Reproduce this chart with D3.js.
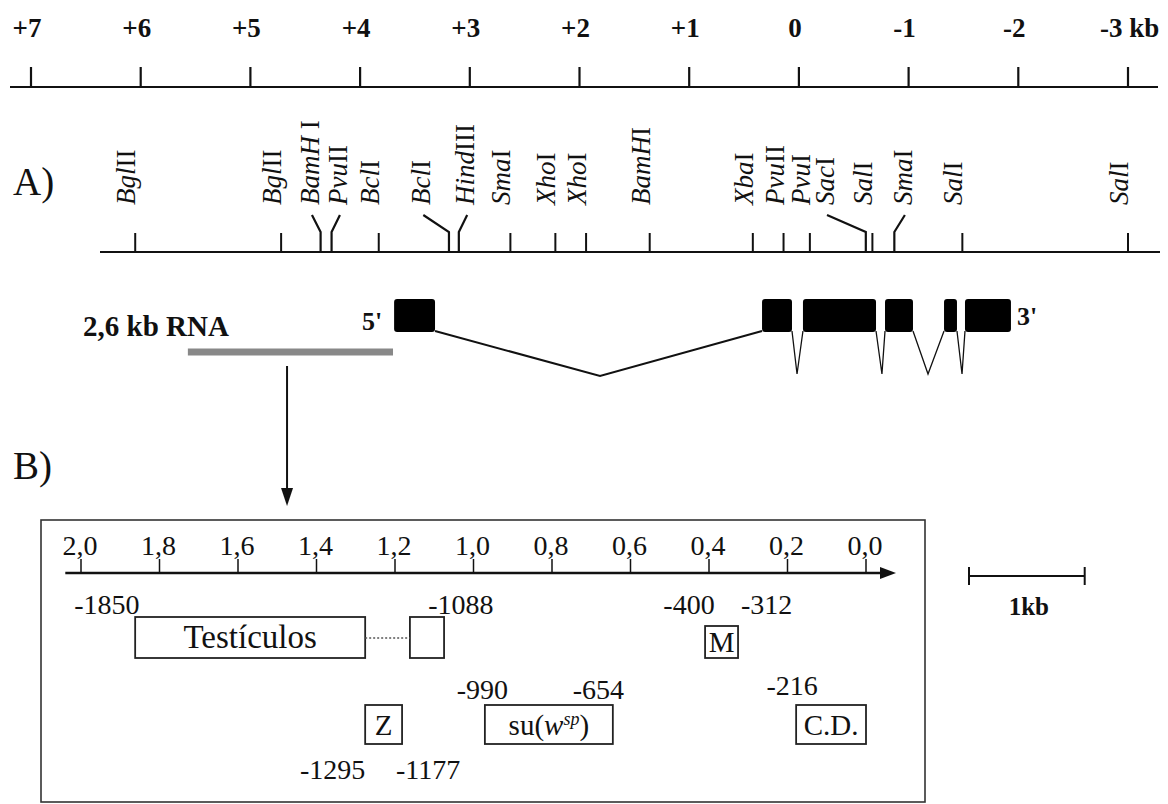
<!DOCTYPE html>
<html><head><meta charset="utf-8">
<script src="https://cdn.jsdelivr.net/npm/d3@7"></script>
<style>
body{margin:0;background:#fff}
svg{display:block}
text{font-family:"Liberation Serif","Times New Roman",serif;fill:#111}
</style>
</head><body>
<svg id="c" width="1168" height="804"></svg>
<script>
// ---------- DATA ----------
// top kb scale
const kbTicks = [7, 6, 5, 4, 3, 2, 1, 0, -1, -2, -3];
const kbTickLabels = ["+7", "+6", "+5", "+4", "+3", "+2", "+1", "0", "-1", "-2", "-3"];
const kbUnit = " kb";

// restriction map (A)
const siteEnzymes  = ["Bgl", "Bgl", "BamH", "Pvu", "Bcl", "Bcl", "Hind", "Sma", "Xho", "Xho", "BamH", "Xba", "Pvu", "Pvu", "Sac", "Sal", "Sma", "Sal", "Sal"];
const siteNumerals = ["II", "II", " I", "II", "I", "I", "III", "I", "I", "I", "I", "I", "II", "I", "I", "I", "I", "I", "I"];
const siteKb       = [6.05, 4.72, 4.36, 4.26, 3.83, 3.19, 3.10, 2.63, 2.22, 1.94, 1.36, 0.42, 0.14, -0.10, -0.61, -0.67, -0.87, -1.49, -3.00];
const siteLabelKb  = [null, null, 4.375, 4.12, null, 3.36, 2.96, null, null, null, null, null, null, null, -0.32, null, -1.03, null, null];

// transcript (2,6 kb RNA)
const rnaLabel = "2,6 kb RNA";
const exonFromKb = [3.69, 0.336, -0.037, -0.785, -1.323, -1.514];
const exonToKb   = [3.317, 0.063, -0.703, -1.040, -1.441, -1.933];
const intronApexKb = [1.813, 0.017, -0.757, -1.177, -1.487];
const probeFromKb = 5.57, probeToKb = 3.70, arrowKb = 4.666;

// promoter detail (B), positions in bp
const bTicks = [2.0, 1.8, 1.6, 1.4, 1.2, 1.0, 0.8, 0.6, 0.4, 0.2, 0.0];
const bTickLabels = ["2,0", "1,8", "1,6", "1,4", "1,2", "1,0", "0,8", "0,6", "0,4", "0,2", "0,0"];
const regionNames = ["Testículos", "", "M", "Z", "su(w^sp)", "C.D."];
const regionFromBp = [-1862, -1162, -410, -1276, -971, -178];
const regionToBp   = [-1276, -1075, -326, -1182, -645, 0];
const regionRow    = [0, 0, 0, 1, 1, 1];
const coordLabels  = ["-1850", "-1088", "-400", "-312", "-990", "-654", "-216", "-1295", "-1177"];
const coordRow     = ["a", "a", "a", "a", "b", "b", "b2", "c", "c"];

// ---------- LAYOUT ----------
const svg = d3.select("#c");
const xTop = d3.scaleLinear().domain([7, -3]).range([31, 1128]);
const xB = d3.scaleLinear().domain([2.0, 0.0]).range([81, 866]);

// top axis
const gTop = svg.append("g");
gTop.append("line").attr("x1", 10).attr("x2", 1158).attr("y1", 87).attr("y2", 87)
  .attr("stroke", "#111").attr("stroke-width", 2.2);
gTop.selectAll("line.t").data(kbTicks).join("line").attr("class", "t")
  .attr("x1", d => xTop(d)).attr("x2", d => xTop(d)).attr("y1", 67).attr("y2", 87)
  .attr("stroke", "#111").attr("stroke-width", 2.2);
gTop.selectAll("text").data(kbTicks).join("text")
  .attr("x", d => xTop(d) - 4).attr("y", 37)
  .attr("text-anchor", "middle").attr("font-size", 27).attr("font-weight", "bold")
  .text((d, i) => kbTickLabels[i])
  .each(function (d, i) {
    if (i === kbTicks.length - 1) {
      const t = d3.select(this);
      t.append("tspan").text(kbUnit);
      t.attr("text-anchor", "start").attr("x", xTop(d) - 28);
    }
  });

// A) restriction map
svg.append("text").attr("x", 13).attr("y", 195).attr("font-size", 39).text("A)");
const rY = 252;
svg.append("line").attr("x1", 100).attr("x2", 1160).attr("y1", rY).attr("y2", rY)
  .attr("stroke", "#111").attr("stroke-width", 2.2);
const sites = siteKb.map((kb, i) => ({kb, enz: siteEnzymes[i], num: siteNumerals[i], lab: siteLabelKb[i]}));
const gS = svg.append("g");
sites.forEach(s => {
  const xs = xTop(s.kb);
  const lx = s.lab === null ? xs : xTop(s.lab);
  if (s.lab === null) {
    gS.append("line").attr("x1", xs).attr("x2", xs).attr("y1", rY - 19).attr("y2", rY)
      .attr("stroke", "#111").attr("stroke-width", 2);
  } else {
    gS.append("path").attr("d", `M${lx - 7},215 L${xs},232 L${xs},${rY}`)
      .attr("fill", "none").attr("stroke", "#111").attr("stroke-width", 2.2);
  }
  const t = gS.append("text").attr("transform", `translate(${lx},205) rotate(-90)`)
    .attr("font-size", 27);
  t.append("tspan").attr("font-style", "italic").text(s.enz);
  t.append("tspan").text(s.num);
});

// transcript
const eTop = 299, eBot = 332;
svg.append("text").attr("x", 83).attr("y", 336).attr("font-size", 29).attr("font-weight", "bold").text(rnaLabel);
svg.append("text").attr("x", 362).attr("y", 330).attr("font-size", 26).attr("font-weight", "bold").text("5'");
svg.append("text").attr("x", 1017).attr("y", 325).attr("font-size", 26).attr("font-weight", "bold").text("3'");
svg.selectAll("rect.exon").data(exonFromKb).join("rect").attr("class", "exon")
  .attr("x", (d) => xTop(d)).attr("width", (d, i) => xTop(exonToKb[i]) - xTop(d))
  .attr("y", eTop).attr("height", eBot - eTop).attr("rx", 3).attr("fill", "#000");
intronApexKb.forEach((a, i) => {
  const x0 = xTop(exonToKb[i]), x1 = xTop(exonFromKb[i + 1]);
  const depth = i === 0 ? 376 : 374;
  svg.append("path").attr("d", `M${x0},${eBot - 1} L${xTop(a)},${depth} L${x1},${eBot - 1}`)
    .attr("fill", "none").attr("stroke", "#111").attr("stroke-width", i === 0 ? 2 : 1.3);
});
svg.append("line").attr("x1", xTop(probeFromKb)).attr("x2", xTop(probeToKb)).attr("y1", 352).attr("y2", 352)
  .attr("stroke", "#888").attr("stroke-width", 7);
svg.append("line").attr("x1", xTop(arrowKb)).attr("x2", xTop(arrowKb)).attr("y1", 366).attr("y2", 490)
  .attr("stroke", "#111").attr("stroke-width", 2);
svg.append("path").attr("d", `M${xTop(arrowKb) - 6},488 L${xTop(arrowKb) + 6},488 L${xTop(arrowKb)},506 Z`).attr("fill", "#111");

// B)
svg.append("text").attr("x", 13).attr("y", 479).attr("font-size", 39).text("B)");
svg.append("rect").attr("x", 41).attr("y", 520).attr("width", 884).attr("height", 282)
  .attr("fill", "none").attr("stroke", "#333").attr("stroke-width", 1.6);
const bY = 573;
svg.append("line").attr("x1", xB(2.04)).attr("x2", 885).attr("y1", bY).attr("y2", bY)
  .attr("stroke", "#111").attr("stroke-width", 2.5);
svg.append("path").attr("d", `M880,${bY - 6} L896,${bY} L880,${bY + 6} Z`).attr("fill", "#111");
svg.selectAll("line.bt").data(bTicks).join("line").attr("class", "bt")
  .attr("x1", d => xB(d)).attr("x2", d => xB(d)).attr("y1", 559).attr("y2", bY)
  .attr("stroke", "#111").attr("stroke-width", 1.5);
svg.selectAll("text.bt").data(bTicks).join("text").attr("class", "bt")
  .attr("x", d => xB(d) - 1).attr("y", 555).attr("text-anchor", "middle").attr("font-size", 28)
  .text((d, i) => bTickLabels[i]);

// regions
const rowTop = [617, 705], rowBot = [658, 744];
const fx = bp => xB(-bp / 1000);
regionNames.forEach((n, i) => {
  const r = regionRow[i];
  let top = rowTop[r];
  if (n === "M") top = 626;
  const x0 = fx(regionFromBp[i]), x1 = fx(regionToBp[i]);
  svg.append("rect").attr("x", x0).attr("y", top).attr("width", x1 - x0).attr("height", rowBot[r] - top)
    .attr("fill", "#fff").attr("stroke", "#222").attr("stroke-width", 1.8);
  if (n) {
    const t = svg.append("text").attr("x", (x0 + x1) / 2).attr("y", (top + rowBot[r]) / 2 + 10)
      .attr("text-anchor", "middle").attr("font-size", n === "Testículos" ? 33 : 29);
    if (n.includes("^")) {
      const sup = n.split("^")[1];
      t.append("tspan").text("su(");
      t.append("tspan").attr("font-style", "italic").text("w");
      t.append("tspan").attr("font-size", 18).attr("dy", -10).attr("font-style", "italic").text(sup.replace(")", ""));
      t.append("tspan").attr("dy", 10).text(")");
    } else t.text(n);
  }
});
// dotted link between Testículos block and its small block
svg.append("line").attr("x1", fx(regionToBp[0])).attr("x2", fx(regionFromBp[1])).attr("y1", 638).attr("y2", 638)
  .attr("stroke", "#555").attr("stroke-width", 1.5).attr("stroke-dasharray", "2,2");

// coordinate labels
const rowBase = {a: 614, b: 699, b2: 695, c: 779};
const labelDx = [-33, 22, -20, 23, 5, -11, 11, -25, 24];
coordLabels.forEach((l, i) => {
  svg.append("text").attr("x", fx(+l) + labelDx[i]).attr("y", rowBase[coordRow[i]])
    .attr("text-anchor", "middle").attr("font-size", 28).text(l);
});

// scale bar
const sb0 = 969, sb1 = sb0 + (xTop(-1) - xTop(0)) + 6;
svg.append("line").attr("x1", sb0).attr("x2", sb1).attr("y1", 576).attr("y2", 576).attr("stroke", "#111").attr("stroke-width", 2);
[sb0, sb1].forEach(x => svg.append("line").attr("x1", x).attr("x2", x).attr("y1", 567).attr("y2", 585).attr("stroke", "#111").attr("stroke-width", 2));
svg.append("text").attr("x", (sb0 + sb1) / 2 + 2).attr("y", 615).attr("text-anchor", "middle")
  .attr("font-size", 25).attr("font-weight", "bold").text("1kb");
</script>
</body></html>
